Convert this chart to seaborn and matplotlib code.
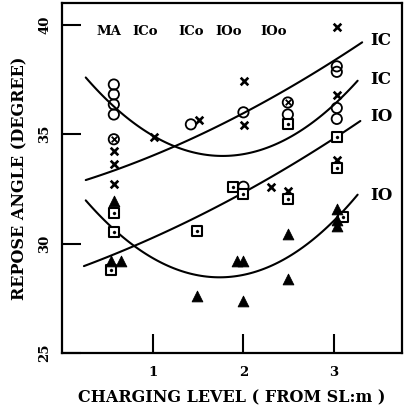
import numpy as np
import pandas as pd
import matplotlib
matplotlib.use("Agg")
import matplotlib.pyplot as plt
import seaborn as sns

# ---- data ----
circle_x = [0.57, 0.57, 0.57, 0.57, 1.42, 2.0, 2.0, 2.49, 3.03, 3.03, 3.03, 3.03]
circle_y = [37.27, 36.82, 36.36, 35.9, 35.45, 36.0, 32.6, 35.9, 38.1, 37.85, 36.2, 35.7]
cross_x = [0.57, 0.57, 0.57, 1.01, 1.51, 2.01, 2.01, 2.30, 3.03, 3.03, 2.49, 3.03]
cross_y = [34.23, 33.64, 32.73, 34.86, 35.64, 35.4, 37.45, 32.6, 39.9, 36.8, 32.4, 33.8]
ocross_x = [0.57, 2.49]
ocross_y = [34.77, 36.45]
sqdot_x = [0.57, 0.57, 0.54, 1.49, 1.88, 2.0, 2.49, 3.03, 3.1, 2.49, 3.03]
sqdot_y = [31.4, 30.55, 28.8, 30.6, 32.6, 32.27, 35.45, 34.86, 31.2, 32.05, 33.45]
tri_x = [0.57, 0.54, 0.65, 1.49, 1.93, 2.0, 2.0, 2.49, 2.49, 3.03, 3.03, 3.03]
tri_y = [31.95, 29.2, 29.2, 27.6, 29.2, 29.2, 27.4, 30.45, 28.4, 31.6, 31.1, 30.8]

# trend curves
r1_x = [0.26, 0.37, 1.03, 1.23, 2.0, 2.19, 2.30, 2.63, 3.31]
r1_y = [32.86, 33.1, 34.1, 34.41, 36.0, 36.23, 36.68, 37.5, 39.18]
u1_x = [0.26, 0.37, 0.56, 1.0, 1.25, 1.53, 1.75, 2.19, 2.41, 2.63, 3.26]
u1_y = [37.5, 37.1, 36.45, 34.88, 34.45, 34.1, 34.0, 34.1, 34.7, 35.3, 37.4]
r2_x = [0.24, 0.37, 0.84, 1.53, 1.97, 2.19, 2.41, 2.63, 3.29]
r2_y = [28.95, 29.2, 30.0, 31.27, 32.27, 32.8, 33.27, 33.86, 35.6]
u2_x = [0.26, 0.37, 0.84, 1.53, 1.75, 1.95, 2.30, 2.6, 2.96, 3.26]
u2_y = [31.9, 31.5, 29.9, 28.55, 28.36, 28.4, 29.0, 29.77, 31.0, 32.14]

curve_labels = ["IC", "IC", "IO", "IO"]
curve_label_y = [39.3, 37.5, 35.8, 32.2]
top_labels = ["MA", "ICo", "ICo", "IOo", "IOo"]
top_label_x = [0.52, 0.92, 1.42, 1.84, 2.33]

x_ticks = [1, 2, 3]
y_ticks = [25, 30, 35, 40]
x_label = "CHARGING LEVEL ( FROM SL:m )"
y_label = "REPOSE ANGLE (DEGREE)"

# ---- styling ----
sns.set_style("ticks")
plt.rcParams["font.family"] = ["DejaVu Serif"]
plt.rcParams["font.weight"] = "bold"
plt.rcParams["text.color"] = "black"
plt.rcParams["axes.labelcolor"] = "black"
plt.rcParams["xtick.color"] = "black"
plt.rcParams["ytick.color"] = "black"

fig = plt.figure(figsize=(4.09, 4.12), dpi=100)
ax = fig.add_axes([0.152, 0.143, 0.831, 0.85])

for cx, cy in [(r1_x, r1_y), (u1_x, u1_y), (r2_x, r2_y), (u2_x, u2_y)]:
    sns.regplot(x=cx, y=cy, order=3, ci=None, scatter=False, truncate=True,
                color="black", line_kws=dict(linewidth=1.5), ax=ax)

sns.scatterplot(x=circle_x, y=circle_y, marker="o", s=55, facecolor="none",
                edgecolor="black", linewidth=1.3, ax=ax, zorder=3)
sns.scatterplot(x=ocross_x, y=ocross_y, marker="o", s=55, facecolor="none",
                edgecolor="black", linewidth=1.3, ax=ax, zorder=3)
sns.scatterplot(x=ocross_x, y=ocross_y, marker="x", s=16, color="black",
                linewidth=1.3, ax=ax, zorder=3)
sns.scatterplot(x=cross_x, y=cross_y, marker="x", s=30, color="black",
                linewidth=1.9, ax=ax, zorder=3)
sns.scatterplot(x=sqdot_x, y=sqdot_y, marker="s", s=42, facecolor="white",
                edgecolor="black", linewidth=1.5, ax=ax, zorder=3)
sns.scatterplot(x=sqdot_x, y=sqdot_y, marker="o", s=5, color="black",
                edgecolor="black", ax=ax, zorder=4)
sns.scatterplot(x=tri_x, y=tri_y, marker="^", s=60, color="black",
                edgecolor="black", ax=ax, zorder=3)

for lab, ly in zip(curve_labels, curve_label_y):
    ax.text(3.40, ly, lab, fontsize=12, fontweight="bold", ha="left",
            va="center", clip_on=False, color="black")
for lab, lx in zip(top_labels, top_label_x):
    ax.text(lx, 39.7, lab, fontsize=9.5, fontweight="bold", ha="center",
            va="center", color="black")

ax.set_xlim(0, 3.75)
ax.set_ylim(25, 41)
ax.set_xticks(x_ticks)
ax.set_xticklabels([str(t) for t in x_ticks], fontsize=9.5, fontweight="bold")
ax.set_yticks(y_ticks)
ax.set_yticklabels([str(t) for t in y_ticks], fontsize=9.5, fontweight="bold",
                   rotation=90, va="center")
ax.tick_params(axis="x", direction="in", length=14, width=1.5, pad=9)
ax.tick_params(axis="y", direction="in", length=14, width=1.5, pad=8)
for sp in ax.spines.values():
    sp.set_visible(True)
    sp.set_linewidth(1.6)
    sp.set_color("black")

ax.set_xlabel(x_label, fontsize=11.5, fontweight="bold", labelpad=8)
ax.set_ylabel(y_label, fontsize=11.5, fontweight="bold", labelpad=7)

fig.savefig("out.png", dpi=100)
